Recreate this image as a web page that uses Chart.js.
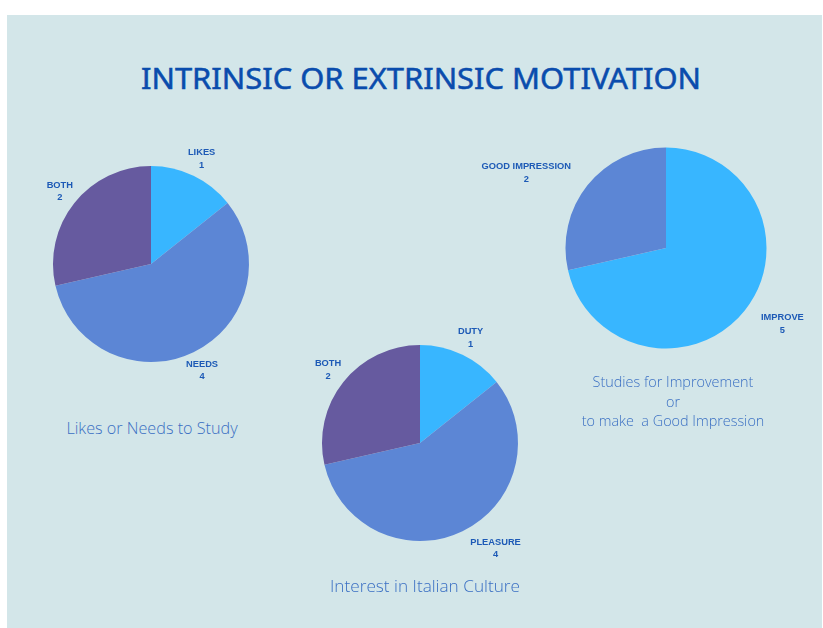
<!DOCTYPE html>
<html>
<head>
<meta charset="utf-8">
<script src="https://cdn.jsdelivr.net/npm/chart.js@4.4.1/dist/chart.umd.min.js"></script>
<style>
  html, body { margin: 0; padding: 0; background: #fff; overflow: hidden; }
  #page { position: relative; width: 823px; height: 628px; overflow: hidden; }
  #panel { position: absolute; left: 7px; top: 15px; width: 815px; height: 613px; background: #d3e6e9; }
  #title {
    position: absolute; left: 421px; top: 59px; transform-origin: 0 0;
    font-family: "Noto Sans", sans-serif; font-weight: 400; font-size: 29px; color: #0a4cad;
    -webkit-text-stroke: 0.5px #0a4cad;
    white-space: nowrap; line-height: 38px;
  }
  .caption {
    position: absolute; text-align: center; white-space: nowrap;
    font-family: "Open Sans", sans-serif; font-weight: 300;
    color: #3a6fc3; transform: translateX(-50%);
  }
  canvas { position: absolute; }
</style>
</head>
<body>
<div id="page">
  <div id="panel"></div>
  <div id="title">INTRINSIC OR EXTRINSIC MOTIVATION</div>
  <canvas id="pieStudy"></canvas>
  <canvas id="pieCulture"></canvas>
  <canvas id="pieImpression"></canvas>
  <div class="caption" style="left:152px; top:418px; font-size:16.2px; line-height:20px;">Likes or Needs to Study</div>
  <div class="caption" style="left:425px; top:575px; font-size:17.2px; line-height:21px;">Interest in Italian Culture</div>
  <div class="caption" style="left:673px; top:372px; font-size:14.4px; line-height:19.5px;">Studies for Improvement<br>or<br>to make&nbsp; a Good Impression</div>
</div>
<script>
// ===== Data
const studyLabels = ['LIKES', 'NEEDS', 'BOTH'];
const studyValues = [1, 4, 2];

const cultureLabels = ['DUTY', 'PLEASURE', 'BOTH'];
const cultureValues = [1, 4, 2];

const impressionLabels = ['IMPROVE', 'GOOD IMPRESSION'];
const impressionValues = [5, 2];

// slice colours
const LIGHT = '#38b6ff';
const MID = '#5c86d5';
const PURPLE = '#665a9f';

// stretch the title horizontally to 560px, centred on x=421
(function fitTitle() {
  const t = document.getElementById('title');
  const w = t.getBoundingClientRect().width;
  const target = 560;
  const s = target / w;
  t.style.transform = `translateX(${-target / 2}px) scaleX(${s})`;
})();

// outside labels: name + value, placed along each slice's mid angle
const sliceLabels = {
  id: 'sliceLabels',
  afterDatasetsDraw(chart, args, opts) {
    const ctx = chart.ctx;
    const meta = chart.getDatasetMeta(0);
    const values = chart.data.datasets[0].data;
    ctx.save();
    ctx.font = 'bold 9.3px "Liberation Sans", Arial, sans-serif';
    ctx.fillStyle = '#1d5ab6';
    ctx.textAlign = 'center';
    ctx.textBaseline = 'middle';
    meta.data.forEach((arc, i) => {
      const p = arc.getProps(['x', 'y', 'startAngle', 'endAngle', 'outerRadius'], true);
      const nudge = (opts.nudge && opts.nudge[i]) || [0, 1.19];
      const a = (p.startAngle + p.endAngle) / 2 + nudge[0] * Math.PI / 180;
      const d = p.outerRadius * nudge[1];
      const lx = p.x + Math.cos(a) * d;
      const ly = p.y + Math.sin(a) * d;
      ctx.fillText(chart.data.labels[i], lx, ly - 6);
      ctx.fillText(String(values[i]), lx, ly + 6.5);
    });
    ctx.restore();
  }
};

function makePie(id, labels, values, colors, cx, cy, r, size, nudge) {
  const el = document.getElementById(id);
  el.width = size;
  el.height = size;
  el.style.left = (cx - size / 2) + 'px';
  el.style.top = (cy - size / 2) + 'px';
  const pad = size / 2 - r;
  return new Chart(el, {
    type: 'pie',
    data: {
      labels,
      datasets: [{ data: values, backgroundColor: colors, borderWidth: 0 }]
    },
    options: {
      responsive: false,
      animation: false,
      layout: { padding: pad },
      plugins: {
        legend: { display: false },
        tooltip: { enabled: false },
        sliceLabels: { nudge }
      }
    },
    plugins: [sliceLabels]
  });
}

makePie('pieStudy', studyLabels, studyValues, [LIGHT, MID, PURPLE],
  151, 264, 98, 300, [[0, 1.19], [0, 1.2], [0, 1.19]]);
makePie('pieCulture', cultureLabels, cultureValues, [LIGHT, MID, PURPLE],
  420, 443, 98, 300, [[0, 1.19], [-10, 1.32], [0, 1.2]]);
makePie('pieImpression', impressionLabels, impressionValues, [LIGHT, MID],
  666, 248, 100.5, 380, [[-5.6, 1.38], [-10.2, 1.58]]);
</script>
</body>
</html>
